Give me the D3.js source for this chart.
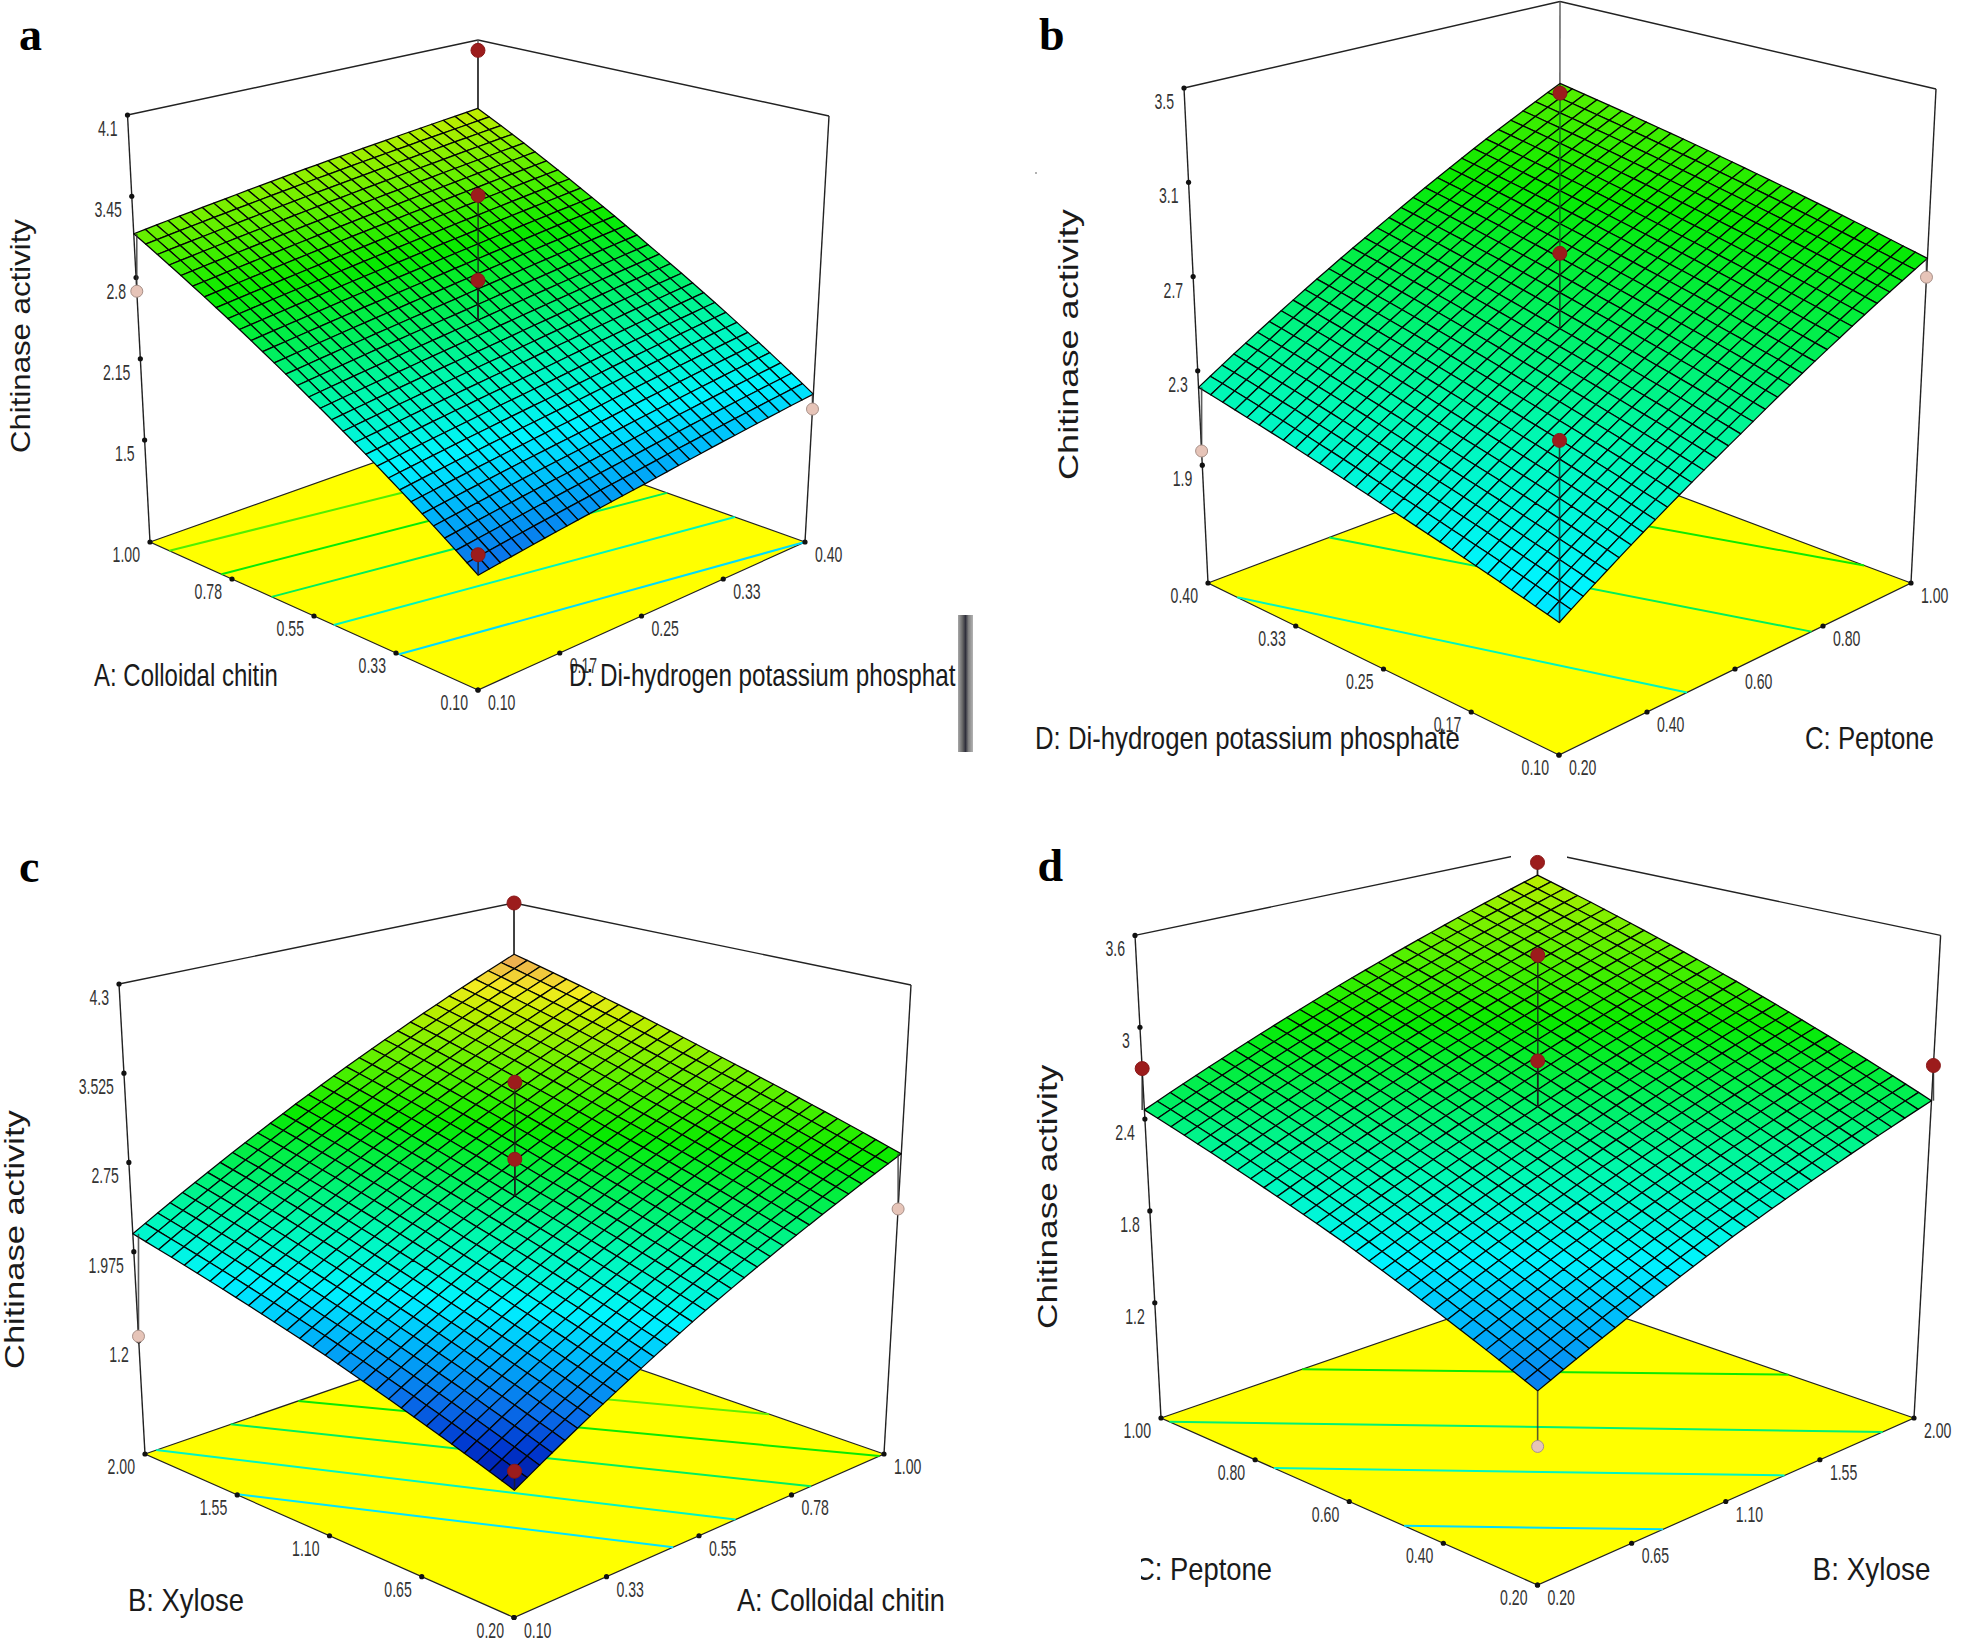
<!DOCTYPE html>
<html><head><meta charset="utf-8">
<style>html,body{margin:0;padding:0;background:#fff}svg{display:block}text{font-family:"Liberation Sans",Arial,sans-serif;fill:#1a1a1a}</style>
<script src="https://d3js.org/d3.v7.min.js"></script></head><body>
<svg id="c" width="1961" height="1641" viewBox="0 0 1961 1641"></svg>
<script>
// ---------- values ----------
const zAxisLabel = "Chitinase activity";

const aLeftFactor = "A: Colloidal chitin", aRightFactor = "D: Di-hydrogen potassium phosphate";
const aLeftTicks = ["0.10","0.33","0.55","0.78","1.00"], aRightTicks = ["0.10","0.17","0.25","0.33","0.40"];
const aZTicks = [1.5,2.15,2.8,3.45,4.1], aZLabels = ["1.5","2.15","2.8","3.45","4.1"], aZFloor = 0.684;
const aSurface = [[1.47,1.66,1.87],[2.30,2.46,2.64],[3.15,3.30,3.44]];
const aContours = [1.87,2.2,2.52,2.78,3.05];
const aPoints = [[1,1,4.0,1],[.5,.5,3.46,1],[.5,.5,2.78,1],[0,0,1.61,1],[1,0,2.69,0],[0,1,1.75,0]];

const bLeftFactor = "D: Di-hydrogen potassium phosphate", bRightFactor = "C: Peptone";
const bLeftTicks = ["0.10","0.17","0.25","0.33","0.40"], bRightTicks = ["0.20","0.40","0.60","0.80","1.00"];
const bZTicks = [1.9,2.3,2.7,3.1,3.5], bZLabels = ["1.9","2.3","2.7","3.1","3.5"], bZFloor = 1.40;
const bSurface = [[1.88,2.32,2.78],[2.05,2.48,2.93],[2.23,2.65,3.08]];
const bContours = [2.2,2.52,2.82];
const bPoints = [[1,1,3.03,1],[.5,.5,2.80,1],[0,0,2.54,1],[1,0,1.96,0],[0,1,2.70,0]];

const cLeftFactor = "B: Xylose", cRightFactor = "A: Colloidal chitin";
const cLeftTicks = ["0.20","0.65","1.10","1.55","2.00"], cRightTicks = ["0.10","0.33","0.55","0.78","1.00"];
const cZTicks = [1.2,1.975,2.75,3.525,4.3], cZLabels = ["1.2","1.975","2.75","3.525","4.3"], cZFloor = 0.217;
const cSurface = [[1.16,2.02,2.83],[1.66,2.46,3.28],[2.13,2.95,3.76]];
const cContours = [1.9,2.18,2.51,2.81,3.11];
const cPoints = [[1,1,4.3,1],[.5,.5,3.45,1],[.5,.5,2.78,1],[0,0,1.30,1],[1,0,1.24,0],[0,1,2.35,0]];

const dLeftFactor = "C: Peptone", dRightFactor = "B: Xylose";
const dLeftTicks = ["0.20","0.40","0.60","0.80","1.00"], dRightTicks = ["0.20","0.65","1.10","1.55","2.00"];
const dZTicks = [1.2,1.8,2.4,3,3.6], dZLabels = ["1.2","1.8","2.4","3","3.6"], dZFloor = 0.447;
const dSurface = [[1.53,2.04,2.52],[2.01,2.48,2.97],[2.46,2.94,3.41]];
const dContours = [1.87,2.19,2.44,2.82];
const dPoints = [[1,1,3.51,1],[.5,.5,3.47,1],[.5,.5,2.78,1],[0,0,1.22,0],[1,0,2.73,1],[0,1,2.75,1]];

const colorStops = [1.15,1.33,1.5,1.72,1.95,2.25,2.5,2.8,3.05,3.25,3.42,3.56,3.72];
const colorValues = ["#000a8c","#0038d0","#0a70ea","#00b0fa","#00f4ff","#00f8b0","#00f060","#08ea00","#50f000","#88f000","#c0ee00","#f4ec20","#eeb050"];

// ---------- layout (cube frame of each panel, on the page) ----------
const panels = [
 {id:"a",lab:[19,49.5],floor:{L:[150,542],F:[478,690],R:[805,542],B:[478,425.6]},top:{L:[127.5,115],R:[829,116],B:[478,40]},
  lt:aLeftTicks,rt:aRightTicks,zt:aZTicks,zl:aZLabels,zf:aZFloor,s:aSurface,c:aContours,p:aPoints,
  titles:[[aLeftFactor,94,686,184],[aRightFactor,569,686,400]],yt:[30,219,453],clipRight:956},
 {id:"b",lab:[1039,49.5],floor:{L:[1208,583],F:[1559,755],R:[1911,583],B:[1559.5,451]},top:{L:[1184,88],R:[1936,89],B:[1560,1.5]},
  lt:bLeftTicks,rt:bRightTicks,zt:bZTicks,zl:bZLabels,zf:bZFloor,s:bSurface,c:bContours,p:bPoints,seeThrough:[0,1],
  titles:[[bLeftFactor,1035,749,425],[bRightFactor,1805,749,129]],yt:[1078,209,480]},
 {id:"c",lab:[19,882],floor:{L:[145,1454],F:[514,1617.5],R:[884,1454],B:[514.5,1326]},top:{L:[119,984],R:[911,985],B:[514,903]},
  lt:cLeftTicks,rt:cRightTicks,zt:cZTicks,zl:cZLabels,zf:cZFloor,s:cSurface,c:cContours,p:cPoints,
  titles:[[cLeftFactor,128,1611,116],[cRightFactor,737,1611,208]],yt:[24,1110,1369]},
 {id:"d",lab:[1037.5,881],floor:{L:[1161,1418],F:[1537.5,1585],R:[1914,1418],B:[1537.5,1288]},top:{L:[1135,935.4],R:[1940.6,935.4],B:[1537.5,851]},
  lt:dLeftTicks,rt:dRightTicks,zt:dZTicks,zl:dZLabels,zf:dZFloor,s:dSurface,c:dContours,p:dPoints,
  titles:[[dLeftFactor,1135,1580,137],[dRightFactor,1812.5,1580,118]],yt:[1057,1064.5,1329],gap:[1511,1567]}
];
const N = 30;
const svg = d3.select("#c");
const color = d3.scaleLinear().domain(colorStops).range(colorValues).clamp(true);
const unit = d3.scaleLinear().domain([0,N]).range([0,1]);
const knots = [0,.5,1];
const defs = svg.append("defs");
const g0 = defs.append("linearGradient").attr("id","bar");
[["0","#a8a8a8"],[".3","#666"],[".5","#30303c"],[".7","#808080"],["1","#b4b4b4"]].forEach(s=>g0.append("stop").attr("offset",s[0]).attr("stop-color",s[1]));

function fitText(g,str,x,y,size,width,opts={}){
  const t=g.append("text").text(str).attr("font-size",size);
  const len=t.node().getComputedTextLength();
  t.attr("transform",`translate(${x},${y})${opts.rotate?" rotate(-90)":""} scale(${width/len},1)`);
  return t;
}
function tickText(g,str,x,y,anchor){
  return g.append("text").text(str).attr("font-size",22).attr("text-anchor",anchor)
    .attr("transform",`translate(${x},${y}) scale(0.64,1)`).style("fill","#333");
}

panels.forEach(P=>{
  const g=svg.append("g");
  const {L,F,R,B}=P.floor, TL=P.top.L,TR=P.top.R,TB=P.top.B;
  const TF=[TL[0]+TR[0]-TB[0],TL[1]+TR[1]-TB[1]];
  const zTop=d3.max(P.zt);
  const tz=d3.scaleLinear().domain([P.zf,zTop]).range([0,1]);
  const proj=(u,v,t)=>{
    const fx=F[0]+u*(L[0]-F[0])+v*(R[0]-F[0]), fy=F[1]+u*(L[1]-F[1])+v*(R[1]-F[1]);
    const tx=TF[0]+u*(TL[0]-TF[0])+v*(TR[0]-TF[0]), ty=TF[1]+u*(TL[1]-TF[1])+v*(TR[1]-TF[1]);
    return [d3.interpolateNumber(fx,tx)(t),d3.interpolateNumber(fy,ty)(t)];
  };
  // the floor narrows towards its back corner
  const pfloor=(u,v)=>[0,1].map(k=>
    (1-u)*(1-v)*F[k]+u*(1-v)*L[k]+(1-u)*v*R[k]+u*v*B[k]);
  const zAt=(u,v)=>{
    const col=P.s.map(r=>d3.scaleLinear().domain(knots).range(r)(v));
    return d3.scaleLinear().domain(knots).range(col)(u);
  };
  const psurf=(u,v)=>proj(u,v,tz(zAt(u,v)));
  const line=d3.line();
  // frame
  const frame=(a,b,w=1.4,c="#222")=>g.append("path").attr("d",line([a,b])).attr("stroke",c).attr("stroke-width",w).attr("fill","none");
  frame(TL,TB);frame(TB,TR);
  frame(pfloor(1,0),TL);frame(pfloor(0,1),TR);frame(pfloor(1,1),TB,1.4,"#555");
  if(P.gap) g.append("rect").attr("x",P.gap[0]).attr("y",TB[1]-8).attr("width",P.gap[1]-P.gap[0]).attr("height",22).attr("fill","#fff");
  // floor
  g.append("path").attr("d",line([pfloor(0,0),pfloor(1,0),pfloor(1,1),pfloor(0,1)])+"Z").attr("fill","#ffff00").attr("stroke","#222").attr("stroke-width",1.2);
  // contour lines on the floor, from the surface values: each runs straight between the floor edges it meets
  const cg=g.append("g").attr("fill","none").attr("stroke-width",2);
  P.c.forEach(level=>{
    const pts=[];
    d3.range(N*2).forEach(i=>d3.range(N*2).forEach(j=>{
      const u0=i/(2*N),u1=(i+1)/(2*N),v0=j/(2*N),v1=(j+1)/(2*N);
      const q=[[u0,v0],[u1,v0],[u1,v1],[u0,v1]];
      const zs=q.map(a=>zAt(a[0],a[1]));
      d3.range(4).forEach(k=>{
        const n=(k+1)%4;
        if((zs[k]>=level)!==(zs[n]>=level)){
          const f=(level-zs[k])/(zs[n]-zs[k]);
          pts.push(pfloor(q[k][0]+f*(q[n][0]-q[k][0]),q[k][1]+f*(q[n][1]-q[k][1])));
        }
      });
    }));
    if(pts.length>1){
      const ends=[pts[d3.minIndex(pts,p=>p[0])],pts[d3.maxIndex(pts,p=>p[0])]];
      cg.append("path").attr("d",line(ends)).attr("stroke",color(level));
    }
  });
  // z ticks
  P.zt.forEach((z,i)=>{
    const p=proj(1,0,tz(z));
    g.append("circle").attr("cx",p[0]).attr("cy",p[1]).attr("r",2.6).attr("fill","#111");
    tickText(g,P.zl[i],p[0]-10,p[1]+21,"end");
  });
  // floor ticks
  const ls=d3.scalePoint().domain(P.lt).range([0,1]), rs=d3.scalePoint().domain(P.rt).range([0,1]);
  P.lt.forEach(lab=>{
    const p=pfloor(ls(lab),0);
    g.append("circle").attr("cx",p[0]).attr("cy",p[1]).attr("r",2.6).attr("fill","#111");
    tickText(g,lab,p[0]-10,p[1]+20,"end");
  });
  P.rt.forEach(lab=>{
    const p=pfloor(0,rs(lab));
    g.append("circle").attr("cx",p[0]).attr("cy",p[1]).attr("r",2.6).attr("fill","#111");
    tickText(g,lab,p[0]+10,p[1]+20,"start");
  });
  // surface mesh
  const mesh=g.append("g").attr("stroke","#050505").attr("stroke-width",1.25).attr("stroke-linejoin","round");
  d3.range(N-1,-1,-1).forEach(i=>d3.range(N-1,-1,-1).forEach(j=>{
    const u0=unit(i),u1=unit(i+1),v0=unit(j),v1=unit(j+1);
    mesh.append("path").attr("d",line([psurf(u0,v0),psurf(u1,v0),psurf(u1,v1),psurf(u0,v1)])+"Z")
      .attr("fill",color(zAt((u0+u1)/2,(v0+v1)/2)));
  }));
  // design points
  const ptg=g.append("g");
  if(P.seeThrough){
    const q=P.seeThrough.map(k=>P.p[k]);
    ptg.append("path").attr("d",line(q.map(d=>proj(d[0],d[1],tz(d[2]))))).attr("stroke","#0a5a20").attr("stroke-width",1.6).attr("stroke-opacity",.8);
  }
  P.p.forEach(d=>{
    const a=proj(d[0],d[1],tz(d[2]));
    const b=psurf(d[0],d[1]);
    ptg.append("path").attr("d",line([a,[a[0],b[1]]])).attr("stroke",d[3]?"#1b1b1b":"#333").attr("stroke-width",1.6).attr("stroke-opacity",.8);
  });
  P.p.forEach(d=>{
    const a=proj(d[0],d[1],tz(d[2]));
    ptg.append("circle").attr("cx",a[0]).attr("cy",a[1]).attr("r",d[3]?7:6)
      .attr("fill",d[3]?"#9c1c1c":"#e6c4b8").attr("stroke",d[3]?"#8a1818":"#a89088").attr("stroke-width",1);
  });
  // titles
  let tg=g.append("g");
  if(P.clipRight){
    defs.append("clipPath").attr("id","clip"+P.id).append("rect").attr("x",0).attr("y",0).attr("width",P.clipRight).attr("height",800);
    tg.attr("clip-path",`url(#clip${P.id})`);
  }
  P.titles.forEach(t=>fitText(tg,t[0],t[1],t[2],31,t[3]));
  fitText(g,zAxisLabel,P.yt[0],P.yt[2],27,P.yt[2]-P.yt[1],{rotate:true});
  g.append("text").text(P.id).attr("x",P.lab[0]).attr("y",P.lab[1])
    .attr("font-size",46).attr("font-weight","bold").style("font-family","'Liberation Serif',serif").style("fill","#000");
});
// page artefacts of the reference
svg.append("rect").attr("x",958).attr("y",615).attr("width",15).attr("height",137).attr("fill","url(#bar)");
svg.append("rect").attr("x",1030).attr("y",776).attr("width",931).attr("height",30).attr("fill","#fff");
svg.append("rect").attr("x",1130).attr("y",1555).attr("width",11).attr("height",30).attr("fill","#fff");
svg.append("circle").attr("cx",1036).attr("cy",173).attr("r",1).attr("fill","#999");
</script></body></html>
